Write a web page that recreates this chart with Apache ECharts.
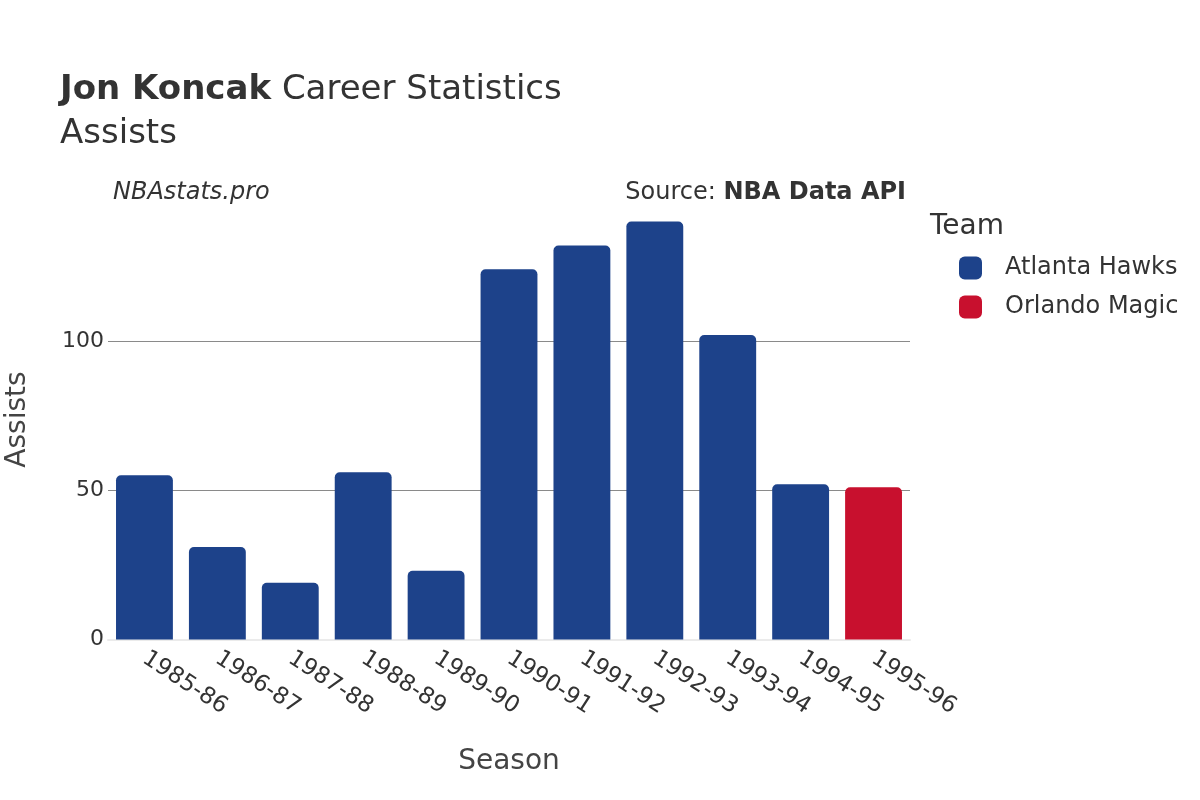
<!DOCTYPE html>
<html lang="en">
<head>
    <meta charset="UTF-8">
    <title>Jon Koncak Career Statistics</title>
    <style>
        html, body { margin: 0; padding: 0; background: #fff; }
        #chart { width: 1200px; height: 800px; }
    </style>
</head>
<body>
    <div id="chart"></div>
    <script src="https://cdn.jsdelivr.net/npm/echarts@6/dist/echarts.min.js"></script>
    <script>
        // data
        var seasons = ['1985-86', '1986-87', '1987-88', '1988-89', '1989-90', '1990-91',
            '1991-92', '1992-93', '1993-94', '1994-95', '1995-96'];
        var hawks = [55, 31, 19, 56, 23, 124, 132, 140, 102, 52, null];
        var magic = [null, null, null, null, null, null, null, null, null, null, 51];
        var teams = ['Atlanta Hawks', 'Orlando Magic'];
        var teamColors = ['#1d428a', '#c8102e'];

        var font = 'DejaVu Sans';
        var chart = echarts.init(document.getElementById('chart'));

        chart.setOption({
            backgroundColor: '#fff',
            textStyle: { fontFamily: font },
            graphic: [
                {
                    type: 'text', left: 60, top: 68,
                    style: {
                        text: '{b|Jon Koncak} Career Statistics\nAssists',
                        fill: '#333', font: '34px "DejaVu Sans"', lineHeight: 44,
                        rich: {
                            b: { fontWeight: 'bold', fontSize: 34, fill: '#333', fontFamily: font }
                        }
                    }
                },
                {
                    type: 'text', left: 113, top: 181,
                    style: { text: 'NBAstats.pro', fill: '#333', font: 'italic 24px "DejaVu Sans"' }
                },
                {
                    type: 'text', right: 294, top: 181,
                    style: {
                        text: 'Source: {b|NBA Data API}', fill: '#333', font: '24px "DejaVu Sans"',
                        rich: { b: { fontWeight: 'bold', fontSize: 24, fill: '#333', fontFamily: font } }
                    }
                },
                {
                    type: 'text', left: 930, top: 213,
                    style: { text: 'Team', fill: '#333', font: '28px "DejaVu Sans"' }
                }
            ],
            legend: {
                data: teams,
                orient: 'vertical',
                left: 954,
                top: 251,
                icon: 'roundRect',
                itemWidth: 23,
                itemHeight: 23,
                itemGap: 15,
                textStyle: { fontSize: 24, color: '#333', fontFamily: font, padding: [0, 0, 0, 18] }
            },
            grid: { left: 108, right: 290, top: 199.5, bottom: 160.5, outerBoundsMode: 'none' },
            xAxis: {
                type: 'category',
                data: seasons,
                name: 'Season',
                nameLocation: 'middle',
                nameGap: 108,
                nameTextStyle: { fontSize: 28, color: '#444', fontFamily: font },
                axisLine: { lineStyle: { color: '#ebebeb', width: 2 } },
                axisTick: { show: false },
                axisLabel: { rotate: -33, fontSize: 23, color: '#333', margin: 17, fontFamily: font }
            },
            yAxis: {
                type: 'value',
                min: 0,
                max: 147.4,
                interval: 50,
                name: 'Assists',
                nameLocation: 'middle',
                nameGap: 76,
                nameTextStyle: { fontSize: 28, color: '#444', fontFamily: font },
                axisLine: { show: false },
                axisTick: { show: false },
                axisLabel: { fontSize: 22, color: '#333', margin: 4, showMaxLabel: false, fontFamily: font },
                splitLine: { showMinLine: false, showMaxLine: false, lineStyle: { color: '#8a8a8a', width: 1 } }
            },
            series: [
                {
                    name: teams[0], type: 'bar', stack: 'team', data: hawks,
                    barCategoryGap: '22%',
                    itemStyle: { color: teamColors[0], borderRadius: [5, 5, 0, 0] }
                },
                {
                    name: teams[1], type: 'bar', stack: 'team', data: magic,
                    barCategoryGap: '22%',
                    itemStyle: { color: teamColors[1], borderRadius: [5, 5, 0, 0] }
                }
            ]
        });
    </script>
</body>
</html>
